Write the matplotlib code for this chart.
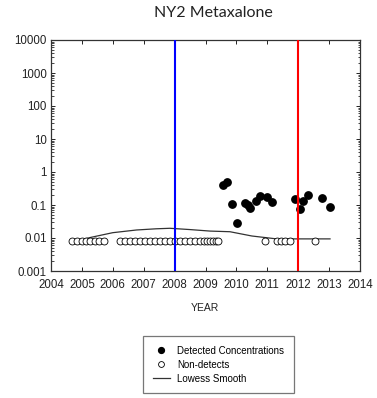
import matplotlib
matplotlib.use("Agg")
import matplotlib.pyplot as plt
from matplotlib.lines import Line2D
from matplotlib.ticker import LogLocator, FixedLocator, NullFormatter

# ---- data ----
det_years = [2009.58, 2009.68, 2009.85, 2010.02, 2010.28, 2010.37, 2010.45, 2010.64,
             2010.75, 2011.00, 2011.16, 2011.89, 2012.07, 2012.16, 2012.31, 2012.78, 2013.02]
det_values = [0.40, 0.49, 0.107, 0.029, 0.115, 0.10, 0.079, 0.132,
              0.19, 0.17, 0.123, 0.149, 0.076, 0.135, 0.205, 0.16, 0.085]

nd_years = [2004.67, 2004.83, 2004.99, 2005.13, 2005.26, 2005.42, 2005.56, 2005.72,
            2006.23, 2006.40, 2006.56, 2006.72, 2006.88, 2007.04, 2007.20, 2007.37,
            2007.53, 2007.69, 2007.85, 2008.01, 2008.18, 2008.34, 2008.50, 2008.66,
            2008.82, 2008.95, 2009.05, 2009.15, 2009.24, 2009.34, 2009.41,
            2010.93, 2011.30, 2011.43, 2011.58, 2011.73, 2012.55]
nd_values = [0.008] * len(nd_years)

lowess_years = [2004.72, 2005.3, 2006.0, 2006.77, 2007.4, 2007.85, 2008.5, 2009.15,
                2009.79, 2010.5, 2011.3, 2012.0, 2013.03]
lowess_values = [0.0077, 0.0105, 0.0145, 0.0175, 0.019, 0.0197, 0.018, 0.0162,
                 0.0155, 0.0115, 0.0094, 0.0094, 0.0094]

vline_blue = 2008.0
vline_red = 2012.0

x_ticks = list(range(2004, 2015))
y_ticks = [0.001, 0.01, 0.1, 1, 10, 100, 1000, 10000]
y_tick_labels = ["0.001", "0.01", "0.1", "1", "10", "100", "1000", "10000"]

title = "NY2 Metaxalone"
xlabel = "YEAR"
legend_labels = ["Detected Concentrations", "Non-detects", "Lowess Smooth"]

# ---- figure ----
plt.rcParams['font.family'] = ['Liberation Sans', 'DejaVu Sans']
fig = plt.figure(figsize=(3.77, 3.98), dpi=100)
ax = fig.add_axes([51/377, 1 - 271/398, (360 - 51)/377, (271 - 40)/398])

ax.set_yscale('log')
ax.set_xlim(2004, 2014)
ax.set_ylim(0.001, 10000)

ax.plot(lowess_years, lowess_values, color='#333333', lw=0.9, zorder=2)
ax.plot(nd_years, nd_values, linestyle='none', marker='o', ms=5.0,
        markerfacecolor='white', markeredgecolor='black', markeredgewidth=0.6, zorder=3)
ax.plot(det_years, det_values, linestyle='none', marker='o', ms=5.3,
        color='black', zorder=4)
ax.axvline(vline_blue, color='#0000ff', lw=1.5, zorder=5)
ax.axvline(vline_red, color='#ff0000', lw=1.5, zorder=5)

ax.xaxis.set_major_locator(FixedLocator(x_ticks))
ax.set_xticklabels([str(t) for t in x_ticks])
ax.yaxis.set_major_locator(FixedLocator(y_ticks))
ax.set_yticklabels(y_tick_labels)
ax.yaxis.set_minor_locator(LogLocator(base=10, subs=range(2, 10), numticks=20))
ax.yaxis.set_minor_formatter(NullFormatter())

ax.tick_params(which='major', direction='in', length=3, width=0.7, top=True, right=True,
               labelsize=8.3, pad=3, colors='#222222')
ax.tick_params(axis='x', which='major', pad=6)
ax.tick_params(which='minor', direction='in', length=1.8, width=0.5, left=True, right=True)
for s in ax.spines.values():
    s.set_color('#333333')
    s.set_linewidth(0.9)

fig.text(213/377, 1 - 13/398, title, ha='center', va='center', fontsize=11.5,
         family=['Lato', 'DejaVu Sans'], color='#222222')
fig.text(205/377, 1 - 308/398, xlabel, ha='center', va='center', fontsize=7.5,
         color='#222222')

handles = [
    Line2D([], [], linestyle='none', marker='o', ms=4.2, color='black'),
    Line2D([], [], linestyle='none', marker='o', ms=4.2, markerfacecolor='white',
           markeredgecolor='black', markeredgewidth=0.6),
    Line2D([], [], color='#333333', lw=0.9),
]
leg = fig.legend(handles, legend_labels, loc='upper left',
                 bbox_to_anchor=(143/377, 1 - 336/398), fontsize=7,
                 frameon=True, fancybox=False, edgecolor='#555555',
                 borderpad=1.0, labelspacing=0.4, handlelength=1.8,
                 handletextpad=0.7, borderaxespad=0)
leg.get_frame().set_linewidth(0.9)

fig.savefig("out.png", dpi=100)
